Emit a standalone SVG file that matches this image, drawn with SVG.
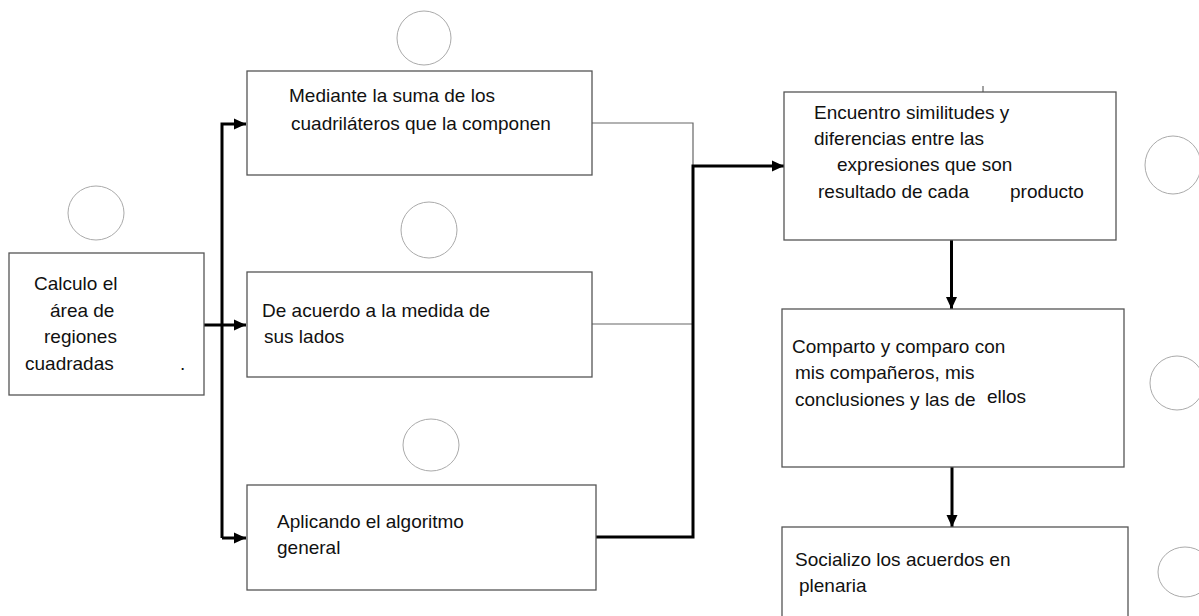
<svg xmlns="http://www.w3.org/2000/svg" width="1199" height="616" viewBox="0 0 1199 616">
<defs>
<marker id="ah" markerUnits="userSpaceOnUse" markerWidth="13" markerHeight="13" viewBox="0 0 13 13" refX="12" refY="6.5" orient="auto">
<path d="M0,1 L12,6.5 L0,12 Z" fill="#000"/>
</marker>
<style>
.box{fill:#fff;stroke:#555;stroke-width:1.3}
.circ{fill:none;stroke:#aaa;stroke-width:1}
.t{font-family:"Liberation Sans",Arial,sans-serif;font-size:19px;fill:#111}
.thick{fill:none;stroke:#000;stroke-width:3}
.thin{fill:none;stroke:#666;stroke-width:1.2}
</style>
</defs>
<rect width="1199" height="616" fill="#fff"/>

<g id="circles">
<ellipse class="circ" cx="424" cy="38" rx="27" ry="27"/>
<ellipse class="circ" cx="96" cy="213" rx="28" ry="27"/>
<ellipse class="circ" cx="429" cy="230" rx="28" ry="28"/>
<ellipse class="circ" cx="431" cy="445" rx="28" ry="26"/>
<ellipse class="circ" cx="1173" cy="165" rx="28" ry="29"/>
<ellipse class="circ" cx="1177" cy="383" rx="27" ry="27"/>
<ellipse class="circ" cx="1185" cy="572" rx="27" ry="25"/>
</g>

<g id="connectors">
<path class="thick" d="M204,325 H246" marker-end="url(#ah)"/>
<path class="thick" d="M222,538 V124 H246" marker-end="url(#ah)"/>
<path class="thick" d="M222,538 H246" marker-end="url(#ah)"/>
<path class="thin" d="M592,123 H693 V166"/>
<path class="thin" d="M592,324 H693"/>
<path class="thick" d="M596,537 H693 V166 H784" marker-end="url(#ah)"/>
<path class="thick" d="M951.5,240 V309" marker-end="url(#ah)"/>
<path class="thick" d="M952,467 V527" marker-end="url(#ah)"/>
<path class="thin" d="M983,86 V92"/>
</g>

<g id="n-calculo">
<rect class="box" x="9" y="253" width="195" height="142"/>
<text class="t" x="34" y="290">Calculo el</text>
<text class="t" x="50" y="317">área de</text>
<text class="t" x="44" y="343">regiones</text>
<text class="t" x="25" y="370">cuadradas</text>
<text class="t" x="180" y="370">.</text>
</g>

<g id="n-suma">
<rect class="box" x="247" y="71" width="345" height="104"/>
<text class="t" x="289" y="102">Mediante la suma de los</text>
<text class="t" x="291" y="130">cuadriláteros que la componen</text>
</g>

<g id="n-lados">
<rect class="box" x="247" y="272" width="345" height="105"/>
<text class="t" x="262" y="317">De acuerdo a la medida de</text>
<text class="t" x="264" y="343">sus lados</text>
</g>

<g id="n-algoritmo">
<rect class="box" x="247" y="485" width="349" height="105"/>
<text class="t" x="277" y="528">Aplicando el algoritmo</text>
<text class="t" x="277" y="554">general</text>
</g>

<g id="n-encuentro">
<rect class="box" x="784" y="92" width="332" height="148"/>
<text class="t" x="814" y="119">Encuentro similitudes y</text>
<text class="t" x="814" y="145">diferencias entre las</text>
<text class="t" x="837" y="171">expresiones que son</text>
<text class="t" x="818" y="198">resultado de cada</text>
<text class="t" x="1010" y="198">producto</text>
</g>

<g id="n-comparto">
<rect class="box" x="782" y="309" width="342" height="158"/>
<text class="t" x="792" y="353">Comparto y comparo con</text>
<text class="t" x="795" y="379">mis compañeros, mis</text>
<text class="t" x="795" y="406">conclusiones y las de</text>
<text class="t" x="987" y="403">ellos</text>
</g>

<g id="n-socializo">
<rect class="box" x="782" y="527" width="346" height="100"/>
<text class="t" x="795" y="566">Socializo los acuerdos en</text>
<text class="t" x="799" y="592">plenaria</text>
</g>
</svg>
